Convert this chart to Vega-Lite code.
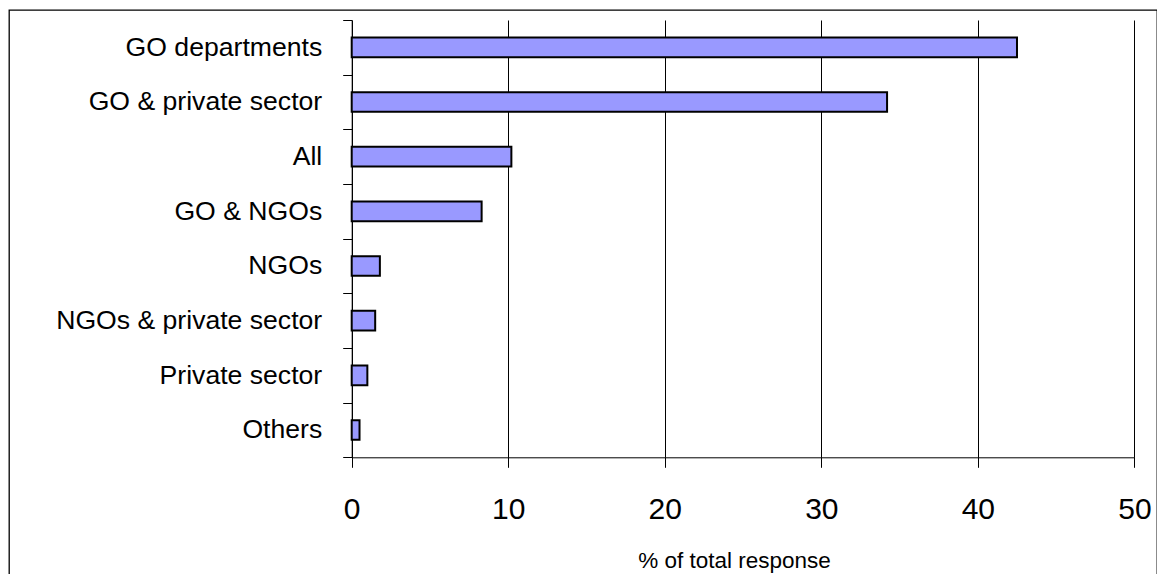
{
  "$schema": "https://vega.github.io/schema/vega-lite/v6.json",
  "width": 1148,
  "height": 600,
  "autosize": {"type": "none"},
  "padding": {"left": 9, "top": 10, "right": 0, "bottom": 0},
  "background": "#ffffff",
  "config": {
    "font": "Liberation Sans",
    "view": {"stroke": "#000000", "strokeWidth": 1.3}
  },
  "data": {
    "values": [
      {"category": "GO departments", "percent": 42.5},
      {"category": "GO & private sector", "percent": 34.2},
      {"category": "All", "percent": 10.2},
      {"category": "GO & NGOs", "percent": 8.3},
      {"category": "NGOs", "percent": 1.8},
      {"category": "NGOs & private sector", "percent": 1.5},
      {"category": "Private sector", "percent": 1.0},
      {"category": "Others", "percent": 0.5}
    ]
  },
  "layer": [
    {
      "mark": {"type": "bar", "opacity": 0, "height": {"band": 0.36}},
      "encoding": {
        "y": {
          "field": "category",
          "type": "nominal",
          "sort": null,
          "scale": {"range": [10, 447.3], "paddingInner": 0, "paddingOuter": 0},
          "axis": {
            "title": null,
            "orient": "left",
            "offset": -342.7,
            "tickBand": "extent",
            "tickSize": 9,
            "tickColor": "#000000",
            "domainColor": "#000000",
            "labelFontSize": 26.6,
            "labelColor": "#000000",
            "labelPadding": 21,
            "labelLimit": 0,
            "grid": false
          }
        },
        "x": {
          "field": "percent",
          "type": "quantitative",
          "scale": {"domain": [0, 50], "range": [342.7, 1125.4], "nice": false},
          "axis": {
            "orient": "top",
            "values": [0, 10, 20, 30, 40, 50],
            "grid": true,
            "gridColor": "#000000",
            "gridOpacity": 1,
            "domain": false,
            "ticks": false,
            "labels": false,
            "title": null
          }
        }
      }
    },
    {
      "mark": {"type": "bar", "fill": "#9999FF", "stroke": "#000000", "strokeWidth": 2, "height": {"band": 0.36}},
      "encoding": {
        "y": {
          "field": "category",
          "type": "nominal",
          "sort": null,
          "scale": {"range": [10, 447.3], "paddingInner": 0, "paddingOuter": 0},
          "axis": {
            "title": null,
            "orient": "left",
            "offset": -342.7,
            "tickBand": "extent",
            "tickSize": 9,
            "tickColor": "#000000",
            "domainColor": "#000000",
            "labelFontSize": 26.6,
            "labelColor": "#000000",
            "labelPadding": 21,
            "labelLimit": 0,
            "grid": false
          }
        },
        "x": {
          "field": "percent",
          "type": "quantitative",
          "scale": {"domain": [0, 50], "range": [342.7, 1125.4], "nice": false},
          "axis": {
            "orient": "bottom",
            "offset": -152.7,
            "values": [0, 10, 20, 30, 40, 50],
            "tickSize": 10,
            "tickColor": "#000000",
            "domainColor": "#000000",
            "grid": false,
            "labelFontSize": 30,
            "labelColor": "#000000",
            "labelBaseline": "alphabetic",
            "labelPadding": 51.4,
            "labelFlush": false,
            "labelOverlap": false,
            "title": "% of total response",
            "titleFontSize": 22.5,
            "titleFontWeight": "normal",
            "titleColor": "#000000",
            "titleX": 725,
            "titleY": 110,
            "titleBaseline": "alphabetic",
            "titleAlign": "center"
          }
        }
      }
    }
  ],
  "resolve": {"axis": {"x": "independent"}}
}
